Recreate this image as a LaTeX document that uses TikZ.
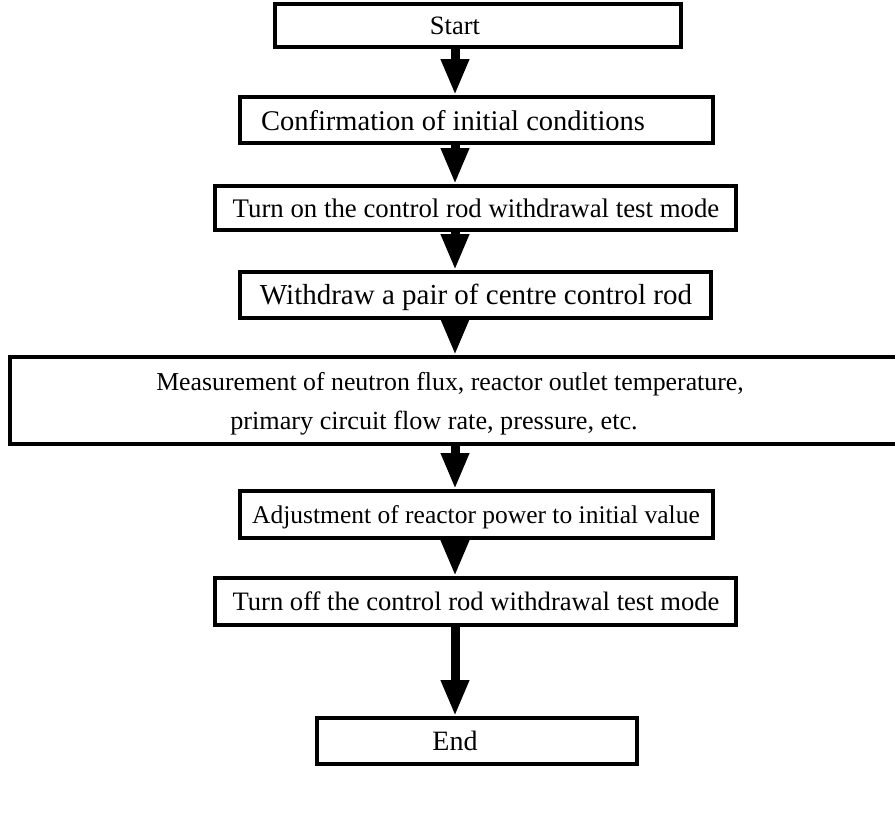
\documentclass[tikz,border=0pt]{standalone}
\usepackage{fontspec}
\setmainfont{Liberation Serif}
\usetikzlibrary{arrows.meta}
\begin{document}
\begin{tikzpicture}[x=1pt,y=-1pt,
  stepbox/.style={draw, line width=3.6pt, inner sep=0pt},
  txt/.style={inner sep=0pt, anchor=base, font=\fontsize{#1}{#1}\selectfont},
  flow/.style={line width=9pt, -{Triangle[width=26pt,length=36pt]}}]
\fill[white] (0,0) rectangle (895,820);
\useasboundingbox (0,0) rectangle (895,820);
\coordinate (ax) at (455,0);
% boxes
\node[stepbox, minimum width=406pt, minimum height=43pt] (s1) at (478,25.5) {};
\node[stepbox, minimum width=473pt, minimum height=46pt] (s2) at (476.5,120) {};
\node[stepbox, minimum width=521pt, minimum height=44pt] (s3) at (475.5,208) {};
\node[stepbox, minimum width=471pt, minimum height=46pt] (s4) at (475.5,295) {};
\node[stepbox, minimum width=887pt, minimum height=87pt] (s5) at (453.5,400.5) {};
\node[stepbox, minimum width=473pt, minimum height=47pt] (s6) at (476.5,514.5) {};
\node[stepbox, minimum width=521pt, minimum height=47pt] (s7) at (475.5,601.5) {};
\node[stepbox, minimum width=320pt, minimum height=46pt] (s8) at (477,741) {};
% texts
\node[txt=26.5] (t1) at (455,34) {Start};
\node[txt=28.5] (t2) at (453,130) {Confirmation of initial conditions};
\node[txt=26.8] (t3) at (476,217) {Turn on the control rod withdrawal test mode};
\node[txt=29] (t4) at (476,304) {Withdraw a pair of centre control rod};
\node[txt=25.8] (t5a) at (450,390) {Measurement of neutron flux, reactor outlet temperature,};
\node[txt=26.2] (t5b) at (434,429) {primary circuit flow rate, pressure, etc.};
\node[txt=25.5] (t6) at (476,523) {Adjustment of reactor power to initial value};
\node[txt=26.6] (t7) at (476,610) {Turn off the control rod withdrawal test mode};
\node[txt=28] (t8) at (455,750) {End};
% connectors
\draw[flow] (s1.south -| ax) -- (s2.north -| ax);
\draw[flow] (s2.south -| ax) -- (s3.north -| ax);
\draw[flow] (s3.south -| ax) -- (s4.north -| ax);
\draw[flow] (s4.south -| ax) -- (s5.north -| ax);
\draw[flow] (s5.south -| ax) -- (s6.north -| ax);
\draw[flow] (s6.south -| ax) -- (s7.north -| ax);
\draw[flow] (s7.south -| ax) -- (s8.north -| ax);
\end{tikzpicture}
\end{document}
